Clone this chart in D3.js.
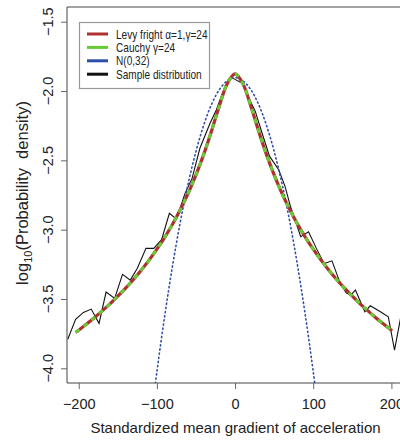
<!DOCTYPE html>
<html>
<head>
<meta charset="utf-8">
<script src="https://cdn.jsdelivr.net/npm/d3@7"></script>
<style>
  body { margin: 0; background: #fff; }
  text { font-family: "Liberation Sans", Arial, sans-serif; fill: #222; }
</style>
</head>
<body>
<svg id="chart"></svg>
<script>
// values (x = standardized gradient, y = log10 density)
const levyX = [-204, -200, -190, -180, -170, -160, -150, -140, -130, -120, -110, -100, -90, -80, -70, -60, -50, -40, -30, -20, -10,
  0, 10, 20, 30, 40, 50, 60, 70, 80, 90, 100, 110, 120, 130, 140, 150, 160, 170, 180, 190, 200, 201];
const levyY = [-3.742, -3.725, -3.681, -3.635, -3.586, -3.535, -3.480, -3.422, -3.359, -3.292, -3.220, -3.141, -3.055, -2.961, -2.855, -2.738, -2.605, -2.455, -2.286, -2.106, -1.947,
  -1.877, -1.947, -2.106, -2.286, -2.455, -2.605, -2.738, -2.855, -2.961, -3.055, -3.141, -3.220, -3.292, -3.359, -3.422, -3.480, -3.535, -3.586, -3.635, -3.681, -3.725, -3.729];
// Cauchy curve sits exactly on the Levy one
const cauchyY = levyY.slice();

const normX = [-110, -100, -90, -80, -70, -60, -50, -40, -30, -20, -10, 0, 10, 20, 30, 40, 50, 60, 70, 80, 90, 100, 110];
const normY = [-4.470, -4.025, -3.622, -3.261, -2.943, -2.668, -2.435, -2.244, -2.095, -1.989, -1.926, -1.904,
  -1.926, -1.989, -2.095, -2.244, -2.435, -2.668, -2.943, -3.261, -3.622, -4.025, -4.470];

const sampleX = [-214, -204, -194, -184, -174, -165, -154, -144, -134, -125, -114, -104, -94, -84, -75, -64, -55, -45, -32, -24, -17, -6,
  0, 9, 15, 26, 34, 44, 56, 64, 71, 84, 94, 104, 114, 124, 133, 142, 148, 154, 166, 173, 186, 196, 204, 212];
const sampleY = [-3.79, -3.647, -3.597, -3.573, -3.676, -3.450, -3.496, -3.322, -3.364, -3.279, -3.135, -3.135, -3.072, -2.882, -2.924, -2.738, -2.630, -2.413, -2.233, -2.137, -2.029, -1.901,
  -1.916, -1.944, -2.017, -2.149, -2.294, -2.470, -2.570, -2.690, -2.835, -3.051, -3.015, -3.135, -3.245, -3.225, -3.364, -3.455, -3.472, -3.436, -3.592, -3.549, -3.592, -3.628, -3.869, -3.628];

const xTicks = [-200, -100, 0, 100, 200];
const yTicks = [-1.5, -2.0, -2.5, -3.0, -3.5, -4.0];

const legendLabels = ['Levy fright α=1,γ=24', 'Cauchy γ=24', 'N(0,32)', 'Sample distribution'];
const legendColors = ['#b03030', '#66cc33', '#2f4fa8', '#111'];

const width = 400, height = 442;
const marginLeft = 67, marginTop = 7, plotBottom = 383, plotRight = 400;

const svg = d3.select('#chart').attr('width', width).attr('height', height);

const x = d3.scaleLinear().domain([-215, 211]).range([marginLeft, plotRight]);
const y = d3.scaleLinear().domain([-1.394, -4.106]).range([marginTop, plotBottom]);

svg.append('clipPath').attr('id', 'clip')
  .append('rect')
  .attr('x', marginLeft).attr('y', marginTop)
  .attr('width', plotRight - marginLeft + 10).attr('height', plotBottom - marginTop);

const zip = (xs, ys) => xs.map((v, i) => [v, ys[i]]);
const line = d3.line().x(d => x(d[0])).y(d => y(d[1]));
const smooth = d3.line().x(d => x(d[0])).y(d => y(d[1])).curve(d3.curveCatmullRom);

const plot = svg.append('g').attr('clip-path', 'url(#clip)');

plot.append('path')
  .attr('d', line(zip(sampleX, sampleY)))
  .attr('fill', 'none').attr('stroke', '#111').attr('stroke-width', 1.1);

plot.append('path')
  .attr('d', smooth(zip(normX, normY)))
  .attr('fill', 'none').attr('stroke', '#2f4fa8').attr('stroke-width', 1.6)
  .attr('stroke-dasharray', '1.2,3').attr('stroke-linecap', 'round');

plot.append('path')
  .attr('d', smooth(zip(levyX, levyY)))
  .attr('fill', 'none').attr('stroke', '#b03030').attr('stroke-width', 3.2);

plot.append('path')
  .attr('d', smooth(zip(levyX, cauchyY)))
  .attr('fill', 'none').attr('stroke', '#66cc33').attr('stroke-width', 3)
  .attr('stroke-dasharray', '5,5');

// box
svg.append('path')
  .attr('d', `M${plotRight + 5},${marginTop}H${marginLeft}V${plotBottom}H${plotRight + 5}`)
  .attr('fill', 'none').attr('stroke', '#444').attr('stroke-width', 1);

// x axis
const xAxis = svg.append('g').attr('transform', `translate(0,${plotBottom})`)
  .call(d3.axisBottom(x).tickValues(xTicks).tickSize(6).tickPadding(10).tickFormat(d3.format('d')));
xAxis.select('.domain').remove();
xAxis.selectAll('line').attr('stroke', '#666');
xAxis.selectAll('text').attr('font-size', 14.5).attr('fill', '#222')
  .style('font-family', '"Liberation Sans", Arial, sans-serif');

// y axis, labels rotated like base R
const yAxis = svg.append('g').attr('transform', `translate(${marginLeft},0)`)
  .call(d3.axisLeft(y).tickValues(yTicks).tickSize(6).tickFormat(''));
yAxis.select('.domain').remove();
yAxis.selectAll('line').attr('stroke', '#666');

svg.append('g').selectAll('text')
  .data(yTicks)
  .join('text')
  .attr('transform', d => `translate(53,${y(d)}) rotate(-90)`)
  .attr('text-anchor', 'middle')
  .attr('font-size', 14.5)
  .text(d => d3.format('.1f')(d));

// axis titles
svg.append('text')
  .attr('x', (marginLeft + plotRight) / 2 + 2).attr('y', 433)
  .attr('text-anchor', 'middle').attr('font-size', 15)
  .text('Standardized mean gradient of acceleration');

const yTitle = svg.append('text')
  .attr('transform', `translate(28,${(marginTop + plotBottom) / 2 - 2}) rotate(-90)`)
  .attr('text-anchor', 'middle').attr('font-size', 16.5)
  .style('white-space', 'pre');
yTitle.append('tspan').text('log');
yTitle.append('tspan').attr('font-size', 11).attr('dy', 4).text('10');
yTitle.append('tspan').attr('dy', -4).text('(Probability  density)');

// legend
const legend = svg.append('g');
legend.append('rect')
  .attr('x', 79.5).attr('y', 22.5).attr('width', 130).attr('height', 66)
  .attr('fill', '#fff').attr('stroke', '#999').attr('stroke-width', 1.2);

const rows = legend.selectAll('g.row')
  .data(legendLabels)
  .join('g')
  .attr('class', 'row')
  .attr('transform', (d, i) => `translate(0,${34 + i * 13.4})`);

rows.append('line')
  .attr('x1', 87).attr('x2', 108)
  .attr('stroke', (d, i) => legendColors[i]).attr('stroke-width', 3);

// narrow font look: squeeze horizontally
rows.append('text')
  .attr('transform', 'translate(116,4.5) scale(0.84,1)')
  .attr('font-size', 12)
  .text(d => d);
</script>
</body>
</html>
